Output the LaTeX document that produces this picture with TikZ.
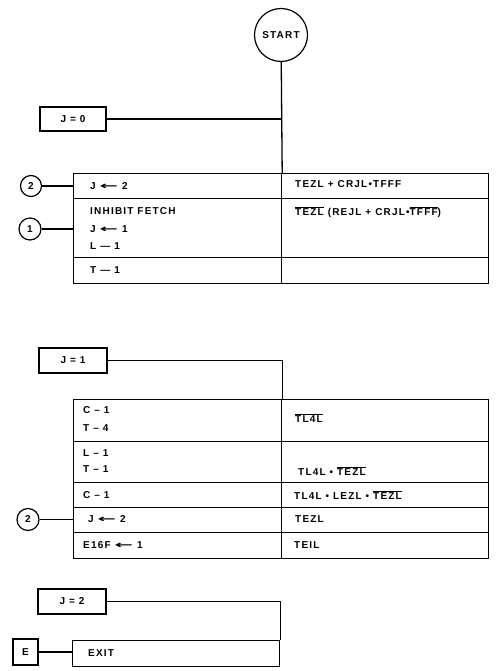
\documentclass[tikz,border=0pt]{standalone}
\usepackage{fontspec}
\setmainfont{Liberation Sans}[LetterSpace=12]
\newfontfamily\arrfont{DejaVu Sans}
\newcommand{\ovl}[1]{$\overline{\hbox{#1}}$}
\newcommand{\lar}{\scalebox{2.2}[1]{\arrfont ←}}
\begin{document}
\begin{tikzpicture}[x=1pt,y=-1pt,
  every node/.style={font=\bfseries\fontsize{10}{12}\selectfont},
  wire/.style={line width=1.3pt},
  box/.style={draw, rectangle, line width=1.2pt, inner sep=0pt},
  cell/.style={draw, rectangle, line width=1.2pt, inner sep=0pt, anchor=north west, minimum width=208pt},
  cellR/.style={draw, rectangle, line width=1.2pt, inner sep=0pt, anchor=north west, minimum width=207pt},
  circ/.style={draw, circle, line width=1.2pt, inner sep=0pt},
  lbl/.style={anchor=west, inner sep=0pt}]
\useasboundingbox (0,0) rectangle (496,671);

% ---------- section 1 ----------
\node[circ, minimum size=53pt] (start) at (281,35) {START};
\node[box, minimum width=66pt, minimum height=24pt] (j0) at (73,119) {J = 0};

\node[cell, minimum height=25pt] (t1a) at (73,173) {};
\node[cellR, minimum height=25pt] (t1aR) at (281,173) {};
\node[cell, minimum height=59pt] (t1b) at (73,198) {};
\node[cellR, minimum height=59pt] (t1bR) at (281,198) {};
\node[cell, minimum height=26pt] (t1c) at (73,257) {};
\node[cellR, minimum height=26pt] (t1cR) at (281,257) {};

\draw[wire] (start) -- (t1a.north east);
\draw[wire] (j0) -- (j0.east -| start);

\node[circ, minimum size=21pt] (c2a) at (31,186) {2};
\node[circ, minimum size=22pt] (c1) at (30,229) {1};
\draw[wire] (c2a) -- (c2a -| t1a.west);
\draw[wire] (c1) -- (c1 -| t1b.west);

\node[lbl] (s1a) at (90,186) {J \lar\ 2};
\node[lbl] (s1b) at (90,211) {INHIBIT FETCH};
\node[lbl] (s1c) at (90,229) {J \lar\ 1};
\node[lbl] (s1d) at (90,246) {L — 1};
\node[lbl] (s1e) at (90,270) {T — 1};
\node[lbl] (r1a) at (295,184) {TEZL + CRJL•TFFF};
\node[lbl] (r1b) at (295,212) {\ovl{TEZL} (REJL + CRJL•\ovl{TFFF})};

% ---------- section 2 ----------
\node[box, minimum width=68pt, minimum height=25pt] (j1) at (73,360.5) {J = 1};

\node[cell, minimum height=42pt] (t2a) at (73,399) {};
\node[cellR, minimum height=42pt] (t2aR) at (281,399) {};
\node[cell, minimum height=41pt] (t2b) at (73,441) {};
\node[cellR, minimum height=41pt] (t2bR) at (281,441) {};
\node[cell, minimum height=25pt] (t2c) at (73,482) {};
\node[cellR, minimum height=25pt] (t2cR) at (281,482) {};
\node[cell, minimum height=25pt] (t2d) at (73,507) {};
\node[cellR, minimum height=25pt] (t2dR) at (281,507) {};
\node[cell, minimum height=26pt] (t2e) at (73,532) {};
\node[cellR, minimum height=26pt] (t2eR) at (281,532) {};

\draw[wire] (j1) -- (j1.east -| t2a.north east) -- (t2a.north east);

\node[circ, minimum size=22pt] (c2b) at (28,519.5) {2};
\draw[wire] (c2b) -- (c2b -| t2d.west);

\node[lbl] (s2a) at (83,410) {C – 1};
\node[lbl] (s2b) at (83,428) {T – 4};
\node[lbl] (s2c) at (83,453) {L – 1};
\node[lbl] (s2d) at (83,469) {T – 1};
\node[lbl] (s2e) at (83,495) {C – 1};
\node[lbl] (s2f) at (88,519) {J \lar\ 2};
\node[lbl] (s2g) at (83,545) {E16F \lar\ 1};
\node[lbl] (r2a) at (295,418) {\ovl{TL4L}};
\node[lbl] (r2b) at (298,471) {TL4L • \ovl{TEZL}};
\node[lbl] (r2c) at (294,495) {TL4L • LEZL • \ovl{TEZL}};
\node[lbl] (r2d) at (295,519) {TEZL};
\node[lbl] (r2e) at (294,545) {TEIL};

% ---------- section 3 ----------
\node[box, minimum width=68pt, minimum height=25pt] (j2) at (72,601.5) {J = 2};
\node[cellR, minimum height=26pt] (exit) at (72,640) {};
\node[lbl] (exitt) at (88,653) {EXIT};
\node[box, minimum width=25pt, minimum height=26pt] (e) at (25.5,652) {E};
\draw[wire] (j2) -- (j2.east -| exit.north east) -- (exit.north east);
\draw[wire] (e) -- (e -| exit.west);
\end{tikzpicture}
\end{document}
